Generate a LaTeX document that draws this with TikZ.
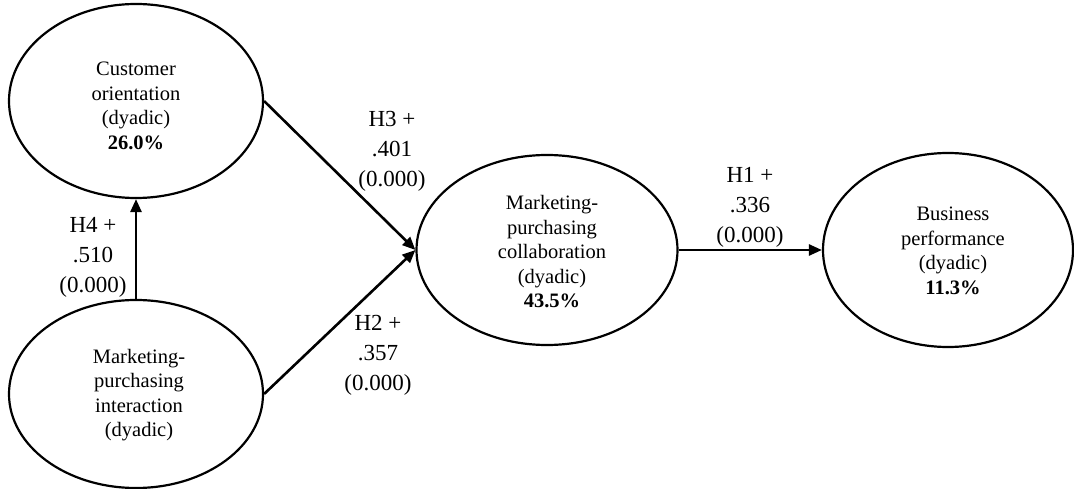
\documentclass[tikz,border=0pt]{standalone}
\usepackage{fontspec}
\setmainfont{Liberation Serif}
\usetikzlibrary{arrows.meta,shapes.geometric}
\begin{document}
\begin{tikzpicture}[x=1pt,y=-1pt,
  latent/.style={draw,ellipse,line width=2.2pt,inner sep=0pt},
  etext/.style={align=center,inner sep=0pt,font=\fontsize{20.5}{24.5}\selectfont},
  ltext/.style={align=center,inner sep=0pt,font=\fontsize{23}{30}\selectfont},
  arr/.style={line width=2.6pt,-{Triangle[length=13pt,width=11pt]}}]
\useasboundingbox (0,0) rectangle (1074,489);
\node[latent,minimum width=254pt,minimum height=194pt] (A) at (136,101) {};
\node[latent,minimum width=254pt,minimum height=188pt] (B) at (136,394) {};
\node[latent,minimum width=261pt,minimum height=190pt] (C) at (547,250) {};
\node[latent,minimum width=250pt,minimum height=194pt] (D) at (948,250) {};
\node[etext] (At) at (136,106) {Customer\\orientation\\(dyadic)\\\textbf{26.0\%}};
\node[etext] (Bt) at (139,395) {Marketing-\\purchasing\\interaction\\(dyadic)};
\node[etext] (Ct) at (552,252) {Marketing-\\purchasing\\collaboration\\(dyadic)\\\textbf{43.5\%}};
\node[etext] (Dt) at (953,251) {Business\\performance\\(dyadic)\\\textbf{11.3\%}};
\draw[arr] (B.north) -- (A.south);
\draw[arr] (A.east) -- (C.west);
\draw[arr] (B.east) -- (C.west);
\draw[arr] (C.east) -- (D.west);
\node[ltext] (L4) at (93,257) {H4 +\\.510\\(0.000)};
\node[ltext] (L3) at (392,151) {H3 +\\.401\\(0.000)};
\node[ltext] (L2) at (378,355) {H2 +\\.357\\(0.000)};
\node[ltext] (L1) at (750,207) {H1 +\\.336\\(0.000)};
\end{tikzpicture}
\end{document}
